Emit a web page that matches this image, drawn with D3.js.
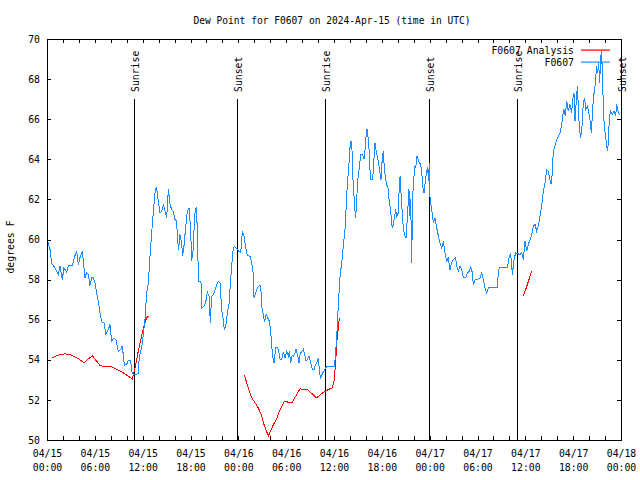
<!DOCTYPE html>
<html>
<head>
<meta charset="utf-8">
<script src="https://cdn.jsdelivr.net/npm/d3@7"></script>
<style>
  html, body { margin: 0; padding: 0; background: #fff; }
  svg { display: block; }
</style>
</head>
<body>
<svg id="chart" width="640" height="480"></svg>
<script>
// ---------------- data ----------------
const chartTitle = "Dew Point for F0607 on 2024-Apr-15 (time in UTC)";
const yAxisLabel = "degrees F";
const startTime = "2024-04-15T00:00:00Z";
const endTime = "2024-04-18T00:00:00Z";
const yTickValues = [50, 52, 54, 56, 58, 60, 62, 64, 66, 68, 70];

// observed series: hours since 04/15 00:00 UTC and dew point (F)
const obsHours = [0.04,0.38,0.59,1.0,1.42,1.63,1.92,2.13,2.47,2.68,3.18,3.51,3.72,3.93,4.14,4.43,4.77,4.97,5.18,5.39,5.6,5.81,6.02,6.23,6.44,6.65,6.86,7.15,7.4,7.69,7.9,8.11,8.4,8.65,8.95,9.24,9.45,9.7,9.99,10.2,10.49,10.62,10.83,11.45,11.58,11.87,12.08,12.29,12.5,12.71,12.92,13.13,13.34,13.46,13.59,13.75,13.96,14.17,14.38,14.59,14.8,15.01,15.22,15.43,15.64,15.84,16.05,16.26,16.39,16.51,16.68,16.89,17.0,17.18,17.39,17.6,17.81,18.02,18.14,18.35,18.48,18.6,18.77,18.94,19.06,19.31,19.44,19.69,19.9,20.11,20.36,20.48,20.65,20.86,21.2,21.49,21.7,21.91,22.11,22.24,22.45,22.62,22.83,22.95,23.16,23.37,23.5,23.79,24.08,24.3,24.51,24.72,24.92,25.13,25.47,25.68,25.89,25.97,26.18,26.39,26.64,26.81,26.93,27.14,27.27,27.48,27.68,27.89,28.06,28.19,28.31,28.48,28.69,28.9,29.02,29.23,29.44,29.65,29.86,30.07,30.28,30.4,30.57,30.74,30.9,31.11,31.24,31.45,31.61,31.74,31.95,32.16,32.37,32.49,32.66,32.87,33.08,33.29,33.5,33.7,33.91,34.04,34.16,34.29,34.5,34.71,34.87,35.08,36.05,36.17,36.34,36.51,36.63,36.76,36.97,37.17,37.38,37.5,37.65,37.78,37.88,38.0,38.13,38.25,38.34,38.5,38.6,38.72,38.84,38.96,39.17,39.34,39.59,39.76,39.88,40.0,40.13,40.26,40.38,40.51,40.64,40.85,41.01,41.14,41.26,41.43,41.56,41.77,41.89,42.02,42.18,42.31,42.43,42.6,42.77,42.94,43.1,43.24,43.36,43.53,43.74,43.86,44.07,44.2,44.3,44.45,44.7,44.9,45.03,45.2,45.33,45.4,45.55,45.62,45.74,45.87,45.95,46.16,46.24,46.41,46.57,46.7,46.87,47.0,47.15,47.3,47.45,47.62,47.75,47.85,47.95,48.05,48.25,48.46,48.67,48.88,49.09,49.3,49.51,49.72,49.93,50.13,50.34,50.55,50.76,50.97,51.26,51.39,51.6,51.81,52.02,52.22,52.52,52.73,52.98,53.14,53.35,53.48,53.69,53.98,54.32,54.52,54.73,54.94,55.15,55.36,56.49,56.61,56.74,57.74,57.95,58.16,58.37,58.58,58.79,59.33,59.54,59.75,59.96,60.17,60.38,60.59,60.8,61.0,61.21,61.42,61.63,61.84,62.05,62.26,62.47,62.68,62.88,63.09,63.22,63.35,63.51,63.72,63.93,64.14,64.35,64.56,64.68,64.85,65.02,65.18,65.39,65.6,65.81,65.94,66.1,66.23,66.36,66.52,66.65,66.77,66.94,67.11,67.27,67.44,67.57,67.78,67.94,68.11,68.28,68.45,68.57,68.74,68.95,69.07,69.2,69.32,69.45,69.53,69.66,69.78,69.91,70.08,70.2,70.33,70.45,70.54,70.7,70.91,71.12,71.33,71.46,71.62,71.79];
const obsValues = [60.03,59.5,58.8,58.6,58.25,58.67,58.0,58.6,58.35,58.7,58.7,59.2,59.4,58.75,59.1,59.4,58.1,58.35,58.25,57.7,58.1,58.1,57.84,57.34,56.9,56.34,55.9,55.85,55.27,55.5,55.76,54.93,55.1,55.0,54.43,54.5,54.7,53.72,53.77,53.98,53.98,53.43,53.27,53.3,54.18,54.6,55.27,56.0,57.34,57.84,59.17,60.33,61.41,61.9,62.5,62.57,61.9,61.33,61.41,61.75,61.41,61.08,62.5,61.75,61.5,61.41,61.0,60.91,59.92,59.5,60.25,59.83,59.17,59.67,60.58,61.41,61.58,60.5,58.92,59.5,60.91,61.5,61.58,58.92,57.92,57.92,56.59,56.67,56.84,57.37,57.17,55.84,57.17,57.25,57.64,57.92,57.84,56.5,56.0,55.5,55.76,56.34,56.76,57.5,58.67,59.58,59.67,59.55,59.4,59.34,60.42,60.17,59.58,59.2,59.17,58.84,58.25,57.09,57.34,57.59,57.71,57.67,56.67,56.26,55.87,56.26,56.1,55.92,55.43,54.68,54.18,53.85,54.6,54.6,54.52,54.02,54.02,54.39,54.1,54.43,54.18,54.43,53.85,54.2,54.18,54.35,54.52,54.2,53.85,54.27,54.43,54.52,54.2,53.93,54.02,54.18,53.85,53.52,53.52,53.77,53.93,54.1,53.52,53.1,53.27,53.43,53.52,53.68,53.68,54.18,55.1,56.5,57.34,58.17,58.84,59.67,60.5,61.4,62.6,63.3,63.8,64.57,64.9,64.57,63.24,62.24,61.6,61.08,61.9,62.9,63.57,64.24,64.24,64.0,64.4,65.07,65.52,65.15,64.65,63.49,62.99,62.99,64.0,64.82,64.49,64.15,63.9,63.33,62.99,63.83,64.4,63.57,63.16,62.74,62.57,61.83,61.5,60.75,60.58,61.0,61.5,61.16,61.33,62.83,63.16,62.0,60.5,60.17,60.08,61.08,62.0,62.5,61.0,62.0,58.84,62.0,62.83,63.66,63.57,64.15,64.0,63.83,63.74,63.4,62.6,62.3,62.9,63.4,63.6,62.9,63.8,62.0,61.5,60.83,61.08,60.58,60.16,59.83,59.58,59.91,59.33,58.92,59.08,58.5,58.84,59.0,59.08,58.67,58.42,58.67,58.5,58.08,58.08,58.34,58.42,58.67,58.34,57.75,58.0,58.0,58.08,58.34,58.0,57.59,57.34,57.59,57.59,58.34,58.59,58.59,59.08,59.33,58.25,59.0,59.33,59.25,59.33,59.0,59.92,59.41,59.75,60.0,60.25,60.67,60.75,60.42,60.67,61.16,61.66,62.41,62.83,63.49,63.41,62.99,62.75,63.16,64.4,64.65,64.99,65.15,65.32,65.73,66.15,66.48,66.15,66.9,66.4,66.73,66.31,66.98,67.32,65.9,66.73,67.65,66.65,65.57,65.07,65.65,66.81,67.07,66.48,66.65,66.4,65.98,65.32,66.56,67.15,67.65,68.64,68.31,68.81,67.81,68.98,69.39,68.48,66.65,65.57,65.15,64.65,64.4,65.15,66.15,66.4,66.23,66.4,66.15,66.73,66.4,66.23];

// analysis series (null = gap)
const anaHours = [0.6,1.63,2.26,2.88,3.51,4.14,4.64,5.18,5.69,6.23,6.65,7.27,8.11,8.74,9.57,10.2,10.7,11.04,11.45,11.87,12.21,12.5,12.75,null,24.76,25.26,25.68,26.1,26.51,26.93,27.22,27.76,28.4,28.8,29.1,29.75,30.7,31.74,32.74,33.8,34.67,35.3,35.8,36.0,36.21,36.34,36.5,36.67,null,59.75,60.25,60.8];
const anaValues = [54.1,54.26,54.3,54.26,54.15,54.0,53.85,54.05,54.2,53.93,53.72,53.65,53.65,53.52,53.35,53.18,53.05,53.6,54.43,55.18,55.76,56.1,56.2,null,53.22,52.6,52.1,51.85,51.6,51.2,50.77,50.2,50.77,51.05,51.4,51.93,51.85,52.55,52.5,52.1,52.38,52.52,52.6,52.93,53.85,54.85,55.43,56.1,null,57.17,57.75,58.42];

// sunrise / sunset markers
const sunLabels = ["Sunrise", "Sunset", "Sunrise", "Sunset", "Sunrise", "Sunset"];
const sunTimes = ["2024-04-15T10:57:00Z", "2024-04-15T23:55:00Z", "2024-04-16T10:53:00Z", "2024-04-16T23:58:00Z", "2024-04-17T11:02:00Z", "2024-04-18T00:06:00Z"];

const seriesNames = ["F0607 Analysis", "F0607"];
const seriesColors = ["#ff0000", "#1e8cff"];

// ---------------- drawing ----------------
const FONT = "'DejaVu Sans Mono', 'Liberation Mono', monospace";
const FS = 9.8;
const pLeft = 47, pRight = 621, pTop = 39, pBottom = 440;

const t0 = new Date(startTime), t1 = new Date(endTime);
const hourToDate = h => new Date(t0.getTime() + h * 3600000);

const x = d3.scaleUtc().domain([t0, t1]).range([pLeft, pRight]);
const y = d3.scaleLinear().domain([50, 70]).range([pBottom, pTop]);

const svg = d3.select("#chart");
svg.append("rect").attr("width", 640).attr("height", 480).attr("fill", "#fff");

// title
svg.append("text").attr("x", 332).attr("y", 24).attr("text-anchor", "middle")
  .attr("font-family", FONT).attr("font-size", 9.6).attr("fill", "#000").text(chartTitle);

// y label
svg.append("text").attr("transform", "translate(14,247) rotate(-90)")
  .attr("text-anchor", "middle").attr("font-family", FONT).attr("font-size", FS)
  .attr("fill", "#000").text(yAxisLabel);

// tick dates every 2 hours
const tickDates = d3.utcHour.every(2).range(t0, new Date(t1.getTime() + 1));
const fmtDate = d3.utcFormat("%m/%d"), fmtTime = d3.utcFormat("%H:%M");

const styleAxis = g => g.attr("font-family", FONT).attr("font-size", FS)
  .call(s => s.select(".domain").remove())
  .call(s => s.selectAll(".tick line").attr("stroke", "#000").attr("shape-rendering", "crispEdges"));

// bottom axis
svg.append("g").attr("transform", `translate(0,${pBottom})`)
  .call(d3.axisBottom(x).tickValues(tickDates).tickSizeInner(-4).tickSizeOuter(0).tickPadding(0)
    .tickFormat(d => d.getUTCHours() % 6 === 0 ? fmtDate(d) + "|" + fmtTime(d) : ""))
  .call(styleAxis)
  .call(g => g.selectAll(".tick text").each(function () {
    const t = d3.select(this);
    const s = t.text();
    t.text(null).attr("y", null).attr("dy", null).attr("fill", "#000");
    if (!s) return;
    const parts = s.split("|");
    t.append("tspan").attr("x", 0).attr("y", 17).text(parts[0]);
    t.append("tspan").attr("x", 0).attr("y", 31).text(parts[1]);
  }));

// top axis (ticks only)
svg.append("g").attr("transform", `translate(0,${pTop})`)
  .call(d3.axisTop(x).tickValues(tickDates).tickSizeInner(-4).tickSizeOuter(0).tickFormat(""))
  .call(styleAxis);

// left axis
svg.append("g").attr("transform", `translate(${pLeft},0)`)
  .call(d3.axisLeft(y).tickValues(yTickValues).tickSizeInner(-4).tickSizeOuter(0).tickPadding(7))
  .call(styleAxis)
  .call(g => g.selectAll(".tick text").attr("fill", "#000"));

// right axis (ticks only)
svg.append("g").attr("transform", `translate(${pRight},0)`)
  .call(d3.axisRight(y).tickValues(yTickValues).tickSizeInner(-4).tickSizeOuter(0).tickFormat(""))
  .call(styleAxis);

// sunrise / sunset lines
const sunG = svg.append("g");
sunTimes.forEach((ts, i) => {
  const sx = x(new Date(ts));
  sunG.append("line").attr("x1", sx).attr("x2", sx).attr("y1", 99).attr("y2", pBottom)
    .attr("stroke", "#000").attr("stroke-width", 1).attr("shape-rendering", "crispEdges");
  sunG.append("text").attr("transform", `translate(${sx + 4.5},92) rotate(-90)`)
    .attr("text-anchor", "start").attr("font-family", FONT).attr("font-size", FS)
    .attr("fill", "#000").text(sunLabels[i]);
});

// data lines
const obs = obsHours.map((h, i) => ({ t: hourToDate(h), v: obsValues[i] }));
const ana = anaHours.map((h, i) => ({ t: h === null ? null : hourToDate(h), v: anaValues[i] }));
const line = d3.line().defined(d => d.t !== null && d.v !== null).x(d => x(d.t)).y(d => y(d.v));

svg.append("path").datum(ana).attr("d", line).attr("fill", "none")
  .attr("stroke", seriesColors[0]).attr("stroke-width", 1).attr("shape-rendering", "crispEdges");
svg.append("path").datum(obs).attr("d", line).attr("fill", "none")
  .attr("stroke", seriesColors[1]).attr("stroke-width", 1).attr("shape-rendering", "crispEdges");

// legend
const legY = [50, 62.5];
seriesNames.forEach((name, i) => {
  svg.append("text").attr("x", 574).attr("y", legY[i] + 3.5).attr("text-anchor", "end")
    .attr("font-family", FONT).attr("font-size", FS).attr("fill", "#000").text(name);
  svg.append("rect").attr("x", 581).attr("width", 29).attr("y", Math.floor(legY[i]) - 0.5).attr("height", 1.2)
    .attr("fill", seriesColors[i]);
});

// frame
svg.append("rect").attr("x", pLeft).attr("y", pTop).attr("width", pRight - pLeft).attr("height", pBottom - pTop)
  .attr("fill", "none").attr("stroke", "#000").attr("stroke-width", 1).attr("shape-rendering", "crispEdges");
</script>
</body>
</html>
